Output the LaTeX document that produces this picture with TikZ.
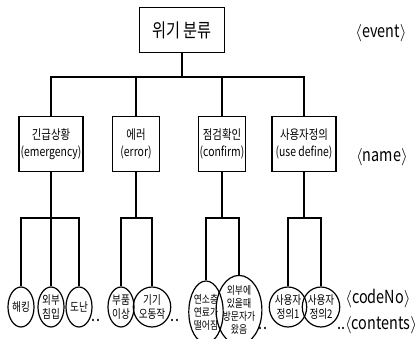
\documentclass[tikz,border=0pt]{standalone}
\usepackage{fontspec}
\setmainfont[FakeStretch=0.8]{Noto Sans CJK KR}
\usetikzlibrary{positioning,shapes.geometric}
\tikzset{font=\small}

\begin{document}
\begin{tikzpicture}[x=1pt,y=-1pt]
	\useasboundingbox (0,0) rectangle (418,339);
	\begin{scope}
		\tikzstyle{every node}=[align=center, inner sep=1pt]
		\tikzstyle{catbox}=[draw, line width=1.2pt, minimum height=55pt, font=\fontsize{13}{17}\selectfont]
		\tikzstyle{leaf}=[draw, ellipse, line width=1.2pt, inner sep=0pt, minimum width=26pt, minimum height=40pt, font=\fontsize{12}{14}\selectfont]
		\tikzstyle{tag}=[font=\fontsize{18}{20}\selectfont]

		\node[draw, line width=1.2pt, minimum width=85pt, minimum height=45pt, font=\fontsize{19}{22}\selectfont] (root) at (182, 30) {위기 분류};

		\node[catbox, minimum width=64pt] (emer) at (51, 144) {긴급상황\\(emergency)};
		\node[catbox, minimum width=47pt] (err) at (136, 144) {에러\\(error)};
		\node[catbox, minimum width=46pt] (conf) at (222, 144) {점검확인\\(confirm)};
		\node[catbox, minimum width=64pt] (user) at (304, 144) {사용자정의\\(use define)};

		\coordinate (j0) at (182, 77);
		\coordinate (b1) at (51, 218);
		\coordinate (b2) at (136, 218);
		\coordinate (b3) at (222, 218);
		\coordinate (b4) at (304, 218);

		\node[leaf] (hack) at (21, 307) {해킹};
		\node[leaf] (intr) at (51, 307) {외부\\침입};
		\node[leaf] (theft) at (79, 307) {도난};
		\node[leaf] (part) at (121, 307) {부품\\이상};
		\node[leaf] (malf) at (152, 307) {기기\\오동작};
		\node[leaf, minimum width=31pt, minimum height=62pt, font=\fontsize{11}{13}\selectfont] (fuel) at (206, 312) {연소층\\연료가\\떨어짐};
		\node[leaf, minimum width=30pt, minimum height=68pt, font=\fontsize{11}{13}\selectfont] (visit) at (239, 310) {외부에\\있을때\\방문자가\\왔음};
		\node[leaf] (ud1) at (288, 307) {사용자\\정의1};
		\node[leaf] (ud2) at (321, 307) {사용자\\정의2};

		\node[tag] (tevent) at (381, 33) {$\langle$event$\rangle$};
		\node[tag] (tname) at (382, 157) {$\langle$name$\rangle$};
		\node[tag] (tcode) at (378, 298) {$\langle$codeNo$\rangle$};
		\node[tag] (tcont) at (377, 325) {..$\langle$contents$\rangle$};
		\node[tag] (d1) at (96, 320) {..};
		\node[tag] (d2) at (175, 320) {..};
		\node[tag] (d3) at (263, 328) {..};

		\draw[line width=1.2pt] (root) -- (j0);
		\draw[line width=1.8pt] (j0) -| (emer);
		\draw[line width=1.8pt] (j0) -| (err);
		\draw[line width=1.8pt] (j0) -| (conf);
		\draw[line width=1.8pt] (j0) -| (user);

		\draw[line width=1.2pt] (emer) -- (b1);
		\draw[line width=1.2pt] (err) -- (b2);
		\draw[line width=1.2pt] (conf) -- (b3);
		\draw[line width=1.2pt] (user) -- (b4);

		\draw[line width=1.5pt] (b1) -| (hack);
		\draw[line width=1.5pt] (b1) -- (intr);
		\draw[line width=1.5pt] (b1) -| (theft);
		\draw[line width=1.5pt] (b2) -| (part);
		\draw[line width=1.5pt] (b2) -| (malf);
		\draw[line width=1.5pt] (b3) -| (fuel);
		\draw[line width=1.5pt] (b3) -| (visit);
		\draw[line width=1.5pt] (b4) -| (ud1);
		\draw[line width=1.5pt] (b4) -| (ud2);
	\end{scope}
\end{tikzpicture}
\end{document}
